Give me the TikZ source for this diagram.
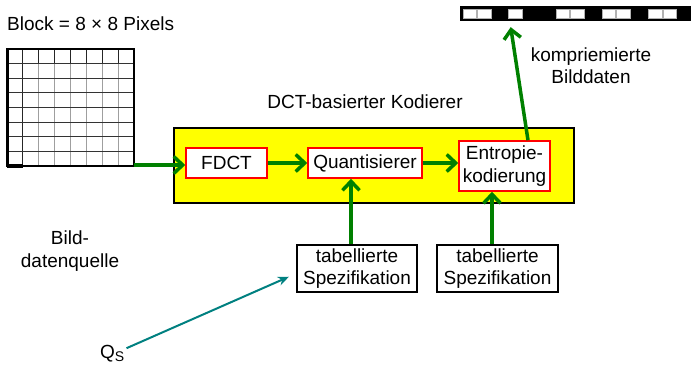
\documentclass[tikz,border=0pt]{standalone}
\usepackage{fontspec}
\setmainfont{Liberation Sans}
\usetikzlibrary{arrows.meta,calc}
\definecolor{dgreen}{RGB}{0,128,0}
\definecolor{tealc}{RGB}{0,128,128}
\definecolor{yell}{RGB}{255,255,0}
\tikzset{
  txt/.style={inner sep=0pt, align=center},
  redbox/.style={draw=red, fill=white, line width=1.5pt, inner sep=0pt, align=center},
  tabbox/.style={draw=black, fill=white, line width=1.5pt, inner sep=0pt, align=center, minimum height=47pt},
  flow/.style={draw=dgreen, line width=3.5pt, -{Straight Barb[length=9pt,width=17pt]}},
  qarrow/.style={draw=tealc, line width=2pt, -{Stealth[length=11pt,width=9pt]}},
  whitesq/.style={fill=white, draw=gray!60, line width=0.4pt}
}
\begin{document}
\begin{tikzpicture}[x=1pt,y=-1pt,font=\fontsize{19}{22.5}\selectfont]
\useasboundingbox (0,0) rectangle (693,365);
% title of block
\node[txt, anchor=base west] (blocktitle) at (7,30.5) {Block = 8 × 8 Pixels};
% grid
\foreach \i in {2,...,7}
  \draw[gray!75, line width=1.2pt] ({7+\i*15.875},49) -- ({7+\i*15.875},166);
\foreach \i in {1,...,7}
  \draw[black!85, line width=1pt] ({7+\i*15.875},49) -- ({7+\i*15.875},63.6);
\draw[black!85, line width=1.2pt] (22.875,49) -- (22.875,166);
\foreach \j in {1,...,7}
  \draw[black!80, line width=1pt] (7,{49+\j*14.625}) -- (134,{49+\j*14.625});
\draw[black, line width=1.5pt] (7,49) rectangle (134,166);
\draw[black, line width=3pt] (7,49) -- (7,166);
\draw[black, line width=3.5pt] (7,166) -- (23,166);
\coordinate (gridbr) at (134,165);
% coder box
\node[draw=black, fill=yell, line width=1.5pt, minimum width=400pt, minimum height=75pt, inner sep=0pt] (coder) at (374,165.5) {};
\node[txt, anchor=base] (codertitle) at (365,108) {DCT-basierter Kodierer};
\node[redbox, minimum width=81pt, minimum height=30pt] (fdct) at (226.5,163) {FDCT};
\node[redbox, minimum width=114pt, minimum height=30pt] (quant) at (365,163) {Quantisierer};
\node[redbox, minimum width=91pt, minimum height=50pt] (ent) at (504.5,166) {Entropie-\\kodierung};
% tables
\node[tabbox, minimum width=120pt] (tab1) at (357,268.5) {tabellierte\\Spezifikation};
\node[tabbox, minimum width=121pt] (tab2) at (497.5,268.5) {tabellierte\\Spezifikation};
% barcode
\node[fill=black, minimum width=231pt, minimum height=15pt, inner sep=0pt] (bar) at (575.5,13.5) {};
\foreach \s in {463,477.5,508.5,556,570.5,602,616.5,648.5,663}
  \draw[whitesq] (\s,9) rectangle ({\s+13.5},18);
% labels
\node[txt] (src) at (70,251) {Bild-\\datenquelle};
\node[txt] (out) at (591,65.5) {kompriemierte\\Bilddaten};
\node[txt, anchor=base west] (qs) at (100,358) {Q\raisebox{-0.35ex}{\fontsize{14}{14}\selectfont S}};
% connectors
\draw[flow] (gridbr) -- (gridbr -| fdct.west);
\draw[flow] (fdct.east) -- (quant.west);
\draw[flow] (quant.east) -- (quant.east -| ent.west);
\draw[flow] ([xshift=-6pt]tab1.north) -- ([xshift=-6pt]tab1.north |- quant.south);
\draw[flow] ([xshift=-5.5pt]tab2.north) -- ([xshift=-5.5pt]tab2.north |- ent.south);
\draw[flow, shorten >=6pt] ([xshift=23.5pt]ent.north) -- ([xshift=50pt]bar.south west);
\draw[qarrow, shorten >=8pt] ([xshift=2pt,yshift=5pt]qs.east) -- ([yshift=-5pt]tab1.west);
\end{tikzpicture}
\end{document}
